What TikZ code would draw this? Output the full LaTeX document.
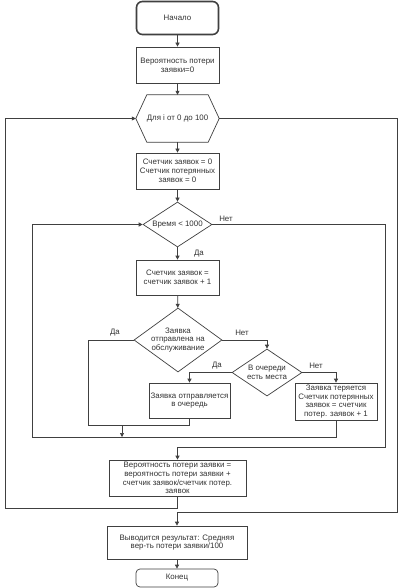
\documentclass[tikz,border=0pt]{standalone}
\usepackage{fontspec}
\setmainfont{Liberation Sans}
\usetikzlibrary{arrows.meta,shapes.geometric,calc}
\definecolor{linec}{HTML}{404040}
\definecolor{txtc}{HTML}{333333}
\begin{document}
\begin{tikzpicture}[x=1pt,y=-1pt,
  every node/.style={font=\fontsize{7.9}{8.8}\selectfont, text=txtc},
  box/.style={draw=linec, line width=0.7pt, align=center, inner sep=0pt, rectangle},
  term/.style={box, rounded corners=4pt},
  dia/.style={draw=linec, line width=0.7pt, align=center, inner sep=0pt, diamond},
  ln/.style={draw=linec, line width=0.7pt},
  arr/.style={ln, -{Triangle[length=4pt,width=4pt]}},
  lbl/.style={inner sep=0pt}
]
\useasboundingbox (0,0) rectangle (404,588);
\fill[white] (0,0) rectangle (404,588);

% nodes
\node[term, line width=1.6pt, rounded corners=6pt, minimum width=82, minimum height=33] (start) at (177.5,18) {Начало};
\node[box, minimum width=83, minimum height=36] (b1) at (177.5,65) {Вероятность потери\\заявки=0};
\node[inner sep=0pt, minimum width=83, minimum height=47] (hex) at (177.5,118.5) {Для i от 0 до 100};
\draw[ln] (hex.west) -- ($(hex.north west)+(11,0)$) -- ($(hex.north east)+(-11,0)$) -- (hex.east)
  -- ($(hex.south east)+(-11,0)$) -- ($(hex.south west)+(11,0)$) -- cycle;
\node[box, minimum width=83, minimum height=36] (b2) at (177.5,171) {Счетчик заявок = 0\\Счетчик потерянных\\заявок = 0};
\node[dia, minimum width=69, minimum height=45, aspect=1.53] (d1) at (177.5,224.5) {Время < 1000};
\node[box, minimum width=83, minimum height=35] (b3) at (177.5,277.5) {Счетчик заявок =\\счетчик заявок + 1};
\node[dia, minimum width=88, minimum height=64, aspect=1.375] (d2) at (178,340) {Заявка\\отправлена на\\обслуживание};
\node[dia, minimum width=70, minimum height=47, aspect=1.49] (d3) at (267,372.5) {В очереди\\есть места};
\node[box, minimum width=81, minimum height=35] (q) at (189.5,400.5) {Заявка отправляется\\в очередь};
\node[box, minimum width=82, minimum height=37] (lost) at (336,401.5) {Заявка теряется\\Счетчик потерянных\\заявок = счетчик\\потер. заявок + 1};
\node[box, minimum width=137, minimum height=36] (b4) at (177.5,478) {Вероятность потери заявки =\\вероятность потери заявки +\\счетчик заявок/счетчик потер.\\заявок};
\node[box, minimum width=140, minimum height=33] (b5) at (177,542.5) {Выводится результат: Средняя\\вер-ть потери заявки/100};
\node[term, minimum width=82, minimum height=18] (end) at (177,578) {Конец};

% main column
\draw[arr] (start) -- (b1);
\draw[arr] (b1) -- (hex.north);
\draw[arr] (hex.south) -- (b2);
\draw[arr] (b2) -- (d1);
\draw[arr] (d1) -- (b3);
\draw[arr] (b3) -- (d2);
\draw[arr] (b5) -- (end);

% d2 -> d3 (no)
\draw[arr] (d2.east) -| (d3.north);
% d3 -> queue (yes), d3 -> lost (no)
\draw[arr] (d3.west) -| (q.north);
\draw[arr] (d3.east) -| (lost.north);
% d2 yes path merge
\draw[ln] (d2.west) -- (88,340) -- (88,425) -| (q.south);
\coordinate (m) at (122,425);
\coordinate (m2) at (122,437);
\draw[arr] (m) -- (m2);
% inner loop back
\draw[arr] (lost.south) -- (336,437) -- (32,437) |- (d1.west);
% inner loop exit (no)
\draw[arr] (d1.east) -- (385,224.5) |- ($(b4.north)+(0,-12)$) -- (b4.north);
% outer loop back
\draw[arr] (b4.south) -- ++(0,12) -| (5,118.5) -- (hex.west);
% outer loop exit
\draw[arr] (hex.east) -- (397,118.5) |- ($(b5.north)+(0,-13)$) -- (b5.north);

% labels
\node[lbl] at (226,219) {Нет};
\node[lbl] at (199,254) {Да};
\node[lbl] at (115,333) {Да};
\node[lbl] at (242,333) {Нет};
\node[lbl] at (217,366) {Да};
\node[lbl] at (316,366) {Нет};
\end{tikzpicture}
\end{document}
